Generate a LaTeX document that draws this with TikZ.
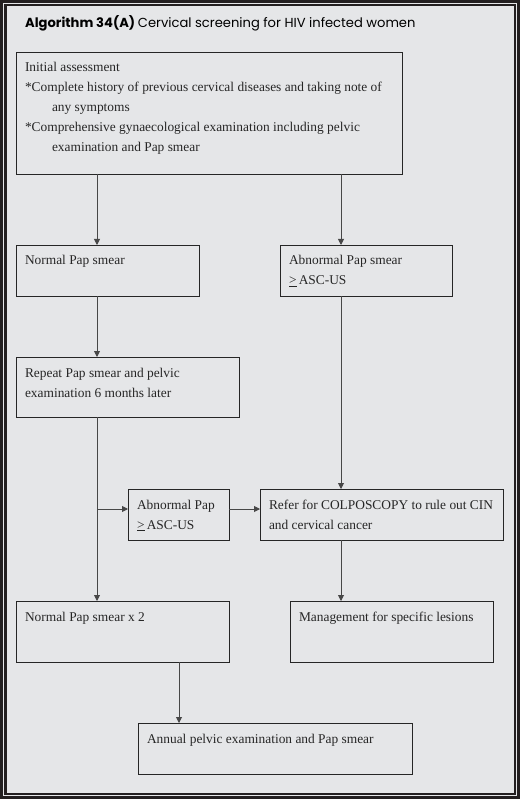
\documentclass[tikz,border=0pt]{standalone}
\usepackage{fontspec}
\setmainfont{Liberation Serif}
\newfontfamily\titlefont{Poppins}
\usepackage{xcolor}
\definecolor{panel}{HTML}{E5E6E8}
\definecolor{frame}{HTML}{231F20}
\definecolor{ink}{HTML}{262626}
\usepackage{tikz}
\usetikzlibrary{arrows.meta}
\usetikzlibrary{positioning}
\tikzstyle{block} = [rectangle, draw=ink, line width=0.9pt, inner xsep=9pt, inner ysep=6pt,
    outer sep=0pt, anchor=north west, text=ink, font=\fontsize{13.4}{20}\selectfont]
\tikzstyle{line} = [draw=ink!85, line width=0.9pt, -{Triangle[length=6pt,width=6pt]}]
% width, height (inside the inner sep), text
\newcommand{\blocktext}[3]{\parbox[t][#2pt][t]{#1pt}{\raggedright\strut #3}}

\begin{document}
\begin{tikzpicture}[x=1pt,y=-1pt]
    % Frame
    \fill[frame] (0,0) rectangle (520,799);
    \draw[panel, line width=1pt] (3.5,3.5) rectangle (516.5,795.5);
    \fill[panel] (6.5,6.5) rectangle (513.5,792.5);
    \useasboundingbox (0,0) rectangle (520,799);

    \node[anchor=base west, inner sep=0pt, text=black] (title) at (25,28)
        {\titlefont\fontsize{13.1}{15}\selectfont\bfseries Algorithm 34(A)\ \mdseries Cervical screening for HIV infected women};

    % Place nodes
    \node[block] (initial) at (16,52) {\blocktext{368}{110}{Initial assessment\\
        {*}Complete history of previous cervical diseases and taking note of\\
        \hspace*{27pt}any symptoms\\
        {*}Comprehensive gynaecological examination including pelvic\\
        \hspace*{27pt}examination and Pap smear}};
    \node[block, below=71pt of initial.south west, anchor=north west] (normal) {\blocktext{165}{39}{Normal Pap smear}};
    \node[block, right=81pt of normal.north east, anchor=north west] (abnormal) {\blocktext{154}{39}{Abnormal Pap smear\\ \underline{>}\,ASC-US}};
    \node[block, below=61pt of normal.south west, anchor=north west] (repeat) {\blocktext{205}{48}{Repeat Pap smear and pelvic\\ examination 6 months later}};
    \node[block, below right=72pt and 112pt of repeat.south west] (abnpap) {\blocktext{83}{39}{Abnormal Pap\\ \underline{>}\,ASC-US}};
    \node[block, right=31pt of abnpap.north east, anchor=north west] (colposcopy) {\blocktext{225}{39}{Refer for COLPOSCOPY to rule out CIN\\ and cervical cancer}};
    \node[block, below=184pt of repeat.south west, anchor=north west] (normaltwo) {\blocktext{195}{49}{Normal Pap smear x 2}};
    \node[block, below right=61pt and 30pt of colposcopy.south west] (management) {\blocktext{185}{49}{Management for specific lesions}};
    \node[block, below right=61pt and 122pt of normaltwo.south west] (annual) {\blocktext{256}{39}{Annual pelvic examination and Pap smear}};

    \coordinate (leftcol) at (97,0);
    \coordinate (midcol) at (179,0);
    \coordinate (rightcol) at (341,0);
    \coordinate (midrow) at (0,509);

    % Draw edges
    \path [line] (initial.south -| leftcol) -- (normal.north -| leftcol);
    \path [line] (initial.south -| rightcol) -- (abnormal.north -| rightcol);
    \path [line] (normal.south -| leftcol) -- (repeat.north -| leftcol);
    \path [line] (repeat.south -| leftcol) -- (normaltwo.north -| leftcol);
    \path [line] (leftcol |- midrow) -- (abnpap.west |- midrow);
    \path [line] (abnpap.east |- midrow) -- (colposcopy.west |- midrow);
    \path [line] (abnormal.south -| rightcol) -- (colposcopy.north -| rightcol);
    \path [line] (colposcopy.south -| rightcol) -- (management.north -| rightcol);
    \path [line] (normaltwo.south -| midcol) -- (annual.north -| midcol);
\end{tikzpicture}
\end{document}
